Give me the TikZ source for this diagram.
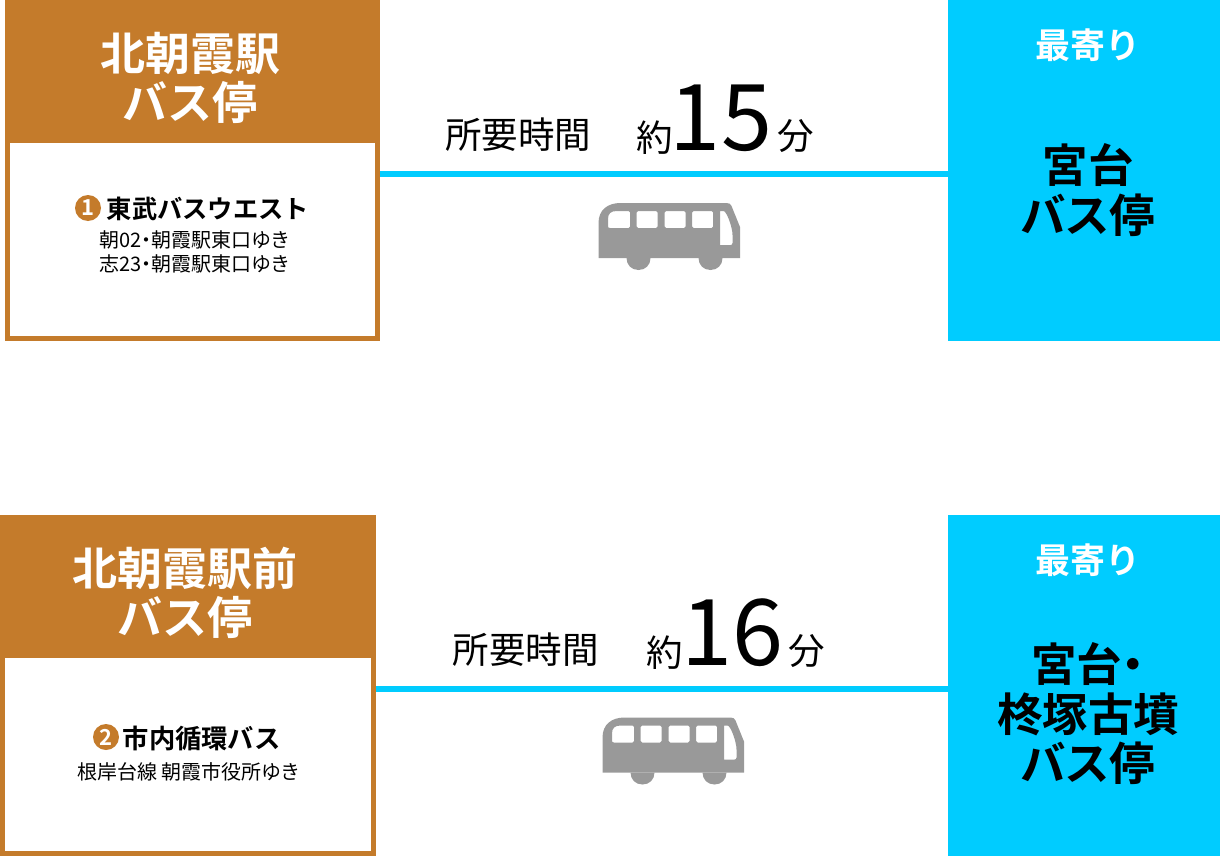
\documentclass[tikz,border=0pt]{standalone}
\usepackage{fontspec}
\setmainfont{Noto Sans CJK JP}[BoldFont={Noto Sans CJK JP Bold}]
\newcommand{\fs}[1]{\fontsize{#1}{#1}\selectfont}
\definecolor{stoporange}{HTML}{C47B2B}
\definecolor{goalblue}{HTML}{00CCFF}
\definecolor{busgray}{HTML}{999999}
\tikzset{
  panel/.style={inner sep=0,minimum width=#1,anchor=north west},
  headtext/.style={text=white,font=\fs{45}\bfseries,align=center,inner sep=0},
  nearest/.style={text=white,font=\fs{35}\bfseries,inner sep=0},
  goaltext/.style={text=black,font=\addfontfeature{RawFeature=+palt}\fs{45.500}\bfseries,align=center,inner sep=0},
  lineno/.style={circle,fill=stoporange,text=white,font=\fs{22}\bfseries,inner sep=0,minimum size=26},
  company/.style={font=\fs{#1}\bfseries,inner sep=0},
  service/.style={font=\addfontfeature{RawFeature=+palt}\fs{20},align=center,inner sep=0},
  timetext/.style={font=\fs{36.500},inner sep=0},
  bignum/.style={font=\fs{92},inner sep=0},
  route/.style={goalblue,line width=6},
  bus/.pic={
    \fill[busgray,even odd rule] (0,55) -- (0,20) .. controls (0,7) and (9,0) .. (22,0)
      -- (128,0) .. controls (131,0) and (132,1) .. (133,3) -- (141.5,24) -- (141.5,55) -- cycle
      (18,8) .. controls (12,8) and (9.5,11) .. (9.5,16) -- (9.5,23) .. controls (9.5,24.500) and (10,25) .. (11.500,25)
      -- (30,25) .. controls (31,25) and (31.500,24.500) .. (31.500,23.500) -- (31.500,9.500)
      .. controls (31.500,8.500) and (31,8) .. (30,8) -- cycle
      (39.500,8) .. controls (38.500,8) and (38,8.500) .. (38,9.500) -- (38,23.500) .. controls (38,24.500) and (38.500,25) .. (39.500,25)
      -- (57.500,25) .. controls (58.500,25) and (59,24.500) .. (59,23.500) -- (59,9.500)
      .. controls (59,8.500) and (58.500,8) .. (57.500,8) -- cycle
      (67.500,8) .. controls (66.500,8) and (66,8.500) .. (66,9.500) -- (66,23.500) .. controls (66,24.500) and (66.500,25) .. (67.500,25)
      -- (85.500,25) .. controls (86.500,25) and (87,24.500) .. (87,23.500) -- (87,9.500)
      .. controls (87,8.500) and (86.500,8) .. (85.500,8) -- cycle
      (95,8) .. controls (94,8) and (93.500,8.500) .. (93.500,9.500) -- (93.500,23.500) .. controls (93.500,24.500) and (94,25) .. (95,25)
      -- (113,25) .. controls (114,25) and (114.500,24.500) .. (114.500,23.500) -- (114.500,9.500)
      .. controls (114.500,8.500) and (114,8) .. (113,8) -- cycle
      (121.500,8) -- (125,8) .. controls (128,8) and (134,24) .. (134,32) -- (134,40)
      .. controls (134,41.500) and (133,42) .. (132,42) -- (121.500,42) -- cycle;
    \fill[busgray] (28,55) .. controls (28,62) and (33,67) .. (40,67) .. controls (47,67) and (52,62) .. (52,55) -- cycle;
    \fill[busgray] (100,55) .. controls (100,62) and (105,67) .. (112,67) .. controls (119,67) and (124,62) .. (124,55) -- cycle;
  }
}
\begin{document}
\begin{tikzpicture}[x=1pt,y=-1pt]
\useasboundingbox (0,0) rectangle (1220,856);

% upper route
\node[panel=375,minimum height=341,fill=stoporange] (stopA) at (5,0) {};
\node[panel=365,minimum height=193,fill=white] (sheetA) at (10,143) {};
\node[panel=272,minimum height=341,fill=goalblue] (goalA) at (948,0) {};
\coordinate (routeA) at (660,174);
\draw[route] (stopA.east |- routeA) -- (goalA.west |- routeA);

\node[headtext] (headA) at (190,78) {北朝霞駅\\[4pt]バス停};
\node[lineno] (numA) at (88,208) {1};
\node[company=25.300,anchor=west] (companyA) at (106.500,209) {東武バスウエスト};
\node[service] (serviceA) at (194,252) {朝02・朝霞駅東口ゆき\\[4pt]志23・朝霞駅東口ゆき};
\node[timetext] (timeA) at (518,135) {所要時間};
\node[timetext] (aboutA) at (654.500,138) {約};
\node[bignum] (minA) at (721,118) {15};
\node[timetext] (unitA) at (796,136) {分};
\node[nearest] (nearA) at (1088,45) {最寄り};
\node[goaltext] (nameA) at (1088,190) {宮台\\[4pt]バス停};
\pic at (598.500,203) {bus};

% lower route
\node[panel=375.500,minimum height=341,fill=stoporange] (stopB) at (0,515) {};
\node[panel=366,minimum height=193,fill=white] (sheetB) at (5,658) {};
\node[panel=272,minimum height=341,fill=goalblue] (goalB) at (948,515) {};
\coordinate (routeB) at (660,689);
\draw[route] (stopB.east |- routeB) -- (goalB.west |- routeB);

\node[headtext] (headB) at (185,593) {北朝霞駅前\\[4pt]バス停};
\node[lineno] (numB) at (106,737) {2};
\node[company=26.300,anchor=west] (companyB) at (122.500,738) {市内循環バス};
\node[service] (serviceB) at (188,772) {根岸台線 朝霞市役所ゆき};
\node[timetext] (timeB) at (525.500,650) {所要時間};
\node[timetext] (aboutB) at (664.500,653) {約};
\node[bignum] (minB) at (732.500,633) {16};
\node[timetext] (unitB) at (806.500,651) {分};
\node[nearest] (nearB) at (1088,560) {最寄り};
\node[goaltext] (nameB) at (1088,714) {宮台・\\[4pt]柊塚古墳\\[4pt]バス停};
\pic at (602.500,717.500) {bus};
\end{tikzpicture}
\end{document}
